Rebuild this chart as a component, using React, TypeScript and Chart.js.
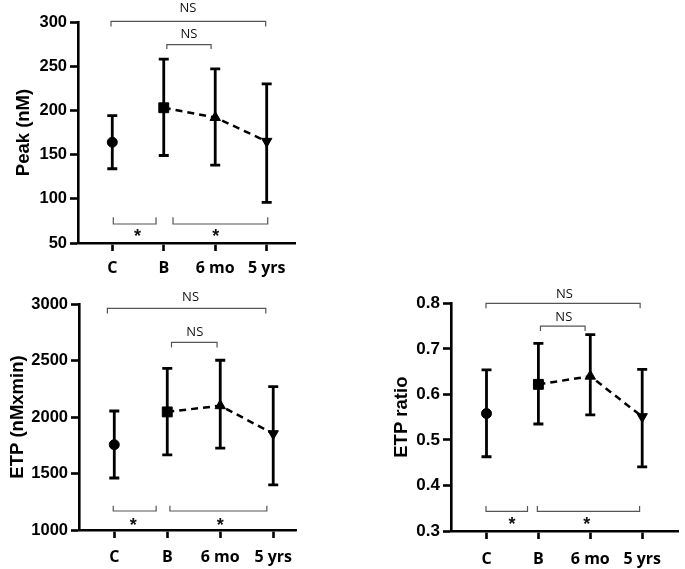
import React, { useEffect, useRef } from 'react';
import { Chart, registerables } from 'chart.js';

Chart.register(...registerables);

// ---------- data ----------
const categories = ['C', 'B', '6 mo', '5 yrs'];
const pointStyles = ['circle', 'rect', 'triangle', 'triangle'];
const pointRotations = [0, 0, 0, 180];
const pointRadii = [5, 7, 6, 6];

const peakMean = [164, 203, 192, 165];
const peakLow = [134, 149, 138, 96];
const peakHigh = [194, 258, 247, 230];
const peakTicks = [50, 100, 150, 200, 250, 300];

const etpMean = [1755, 2045, 2100, 1852];
const etpLow = [1460, 1665, 1725, 1400];
const etpHigh = [2053, 2430, 2502, 2268];
const etpTicks = [1000, 1500, 2000, 2500, 3000];

const ratioMean = [0.558, 0.622, 0.64, 0.551];
const ratioLow = [0.463, 0.535, 0.555, 0.441];
const ratioHigh = [0.654, 0.712, 0.731, 0.655];
const ratioTicks = [0.3, 0.4, 0.5, 0.6, 0.7, 0.8];

type Bracket = { from: number; to: number; y: number; tip: number; label: string; labelX: number; labelY: number };

const peakBrackets: Bracket[] = [
  { from: -0.025, to: 2.98, y: 300.6, tip: 294.9, label: 'NS', labelX: 1.47, labelY: 316.4 },
  { from: 1.06, to: 1.92, y: 274.5, tip: 269.5, label: 'NS', labelX: 1.49, labelY: 287.2 },
  { from: 0.02, to: 0.85, y: 71.5, tip: 79, label: '*', labelX: 0.49, labelY: 62.4 },
  { from: 1.18, to: 3.02, y: 71.5, tip: 79, label: '*', labelX: 2.01, labelY: 62.4 },
];

const etpBrackets: Bracket[] = [
  { from: -0.13, to: 2.86, y: 2962, tip: 2917, label: 'NS', labelX: 1.44, labelY: 3065 },
  { from: 1.08, to: 1.94, y: 2661, tip: 2614, label: 'NS', labelX: 1.52, labelY: 2755 },
  { from: -0.02, to: 0.79, y: 1168, tip: 1215, label: '*', labelX: 0.36, labelY: 1083 },
  { from: 1.05, to: 2.88, y: 1168, tip: 1215, label: '*', labelX: 2.0, labelY: 1083 },
];

const ratioBrackets: Bracket[] = [
  { from: -0.01, to: 2.96, y: 0.8, tip: 0.789, label: 'NS', labelX: 1.5, labelY: 0.823 },
  { from: 1.04, to: 1.9, y: 0.75, tip: 0.739, label: 'NS', labelX: 1.49, labelY: 0.771 },
  { from: -0.01, to: 0.79, y: 0.343, tip: 0.355, label: '*', labelX: 0.49, labelY: 0.324 },
  { from: 0.98, to: 2.95, y: 0.343, tip: 0.355, label: '*', labelX: 1.93, labelY: 0.324 },
];

// ---------- layout ----------
type PanelCfg = {
  title: string;
  mean: number[];
  low: number[];
  high: number[];
  ticks: number[];
  decimals: number;
  brackets: Bracket[];
  left: number; top: number; width: number; height: number;
  areaLeft: number; areaRight: number; areaTop: number; areaBottom: number;
  xMin: number; xMax: number;
  titlePad: number; labelPad: number; yFont: number;
};

const panels: PanelCfg[] = [
  {
    title: 'Peak (nM)', mean: peakMean, low: peakLow, high: peakHigh, ticks: peakTicks, decimals: 0, brackets: peakBrackets,
    left: 0, top: 0, width: 320, height: 285,
    areaLeft: 78, areaRight: 295, areaTop: 22, areaBottom: 243,
    xMin: -0.666, xMax: 3.55, titlePad: 12.9, labelPad: 8, yFont: 16.5,
  },
  {
    title: 'ETP (nMxmin)', mean: etpMean, low: etpLow, high: etpHigh, ticks: etpTicks, decimals: 0, brackets: etpBrackets,
    left: 0, top: 280, width: 320, height: 289,
    areaLeft: 79, areaRight: 296, areaTop: 24, areaBottom: 250,
    xMin: -0.666, xMax: 3.43, titlePad: 6.9, labelPad: 10, yFont: 16.5,
  },
  {
    title: 'ETP ratio', mean: ratioMean, low: ratioLow, high: ratioHigh, ticks: ratioTicks, decimals: 1, brackets: ratioBrackets,
    left: 380, top: 270, width: 305, height: 299,
    areaLeft: 71, areaRight: 303.3, areaTop: 33.3, areaBottom: 261,
    xMin: -0.684, xMax: 3.69, titlePad: 10.9, labelPad: 11, yFont: 17,
  },
];

function Panel({ cfg }: { cfg: PanelCfg }) {
  const ref = useRef<HTMLCanvasElement>(null);
  useEffect(() => {
    const canvas = ref.current;
    if (!canvas) return;

    const errorBars = {
      id: 'errorBars',
      beforeDatasetsDraw(chart: any) {
        const { ctx, scales } = chart;
        const xs = scales.x;
        const ys = scales.y;
        ctx.save();
        ctx.strokeStyle = '#000';
        ctx.lineWidth = 2.8;
        ctx.lineCap = 'butt';
        cfg.mean.forEach((_, i) => {
          const x = xs.getPixelForValue(i);
          const yl = ys.getPixelForValue(cfg.low[i]);
          const yh = ys.getPixelForValue(cfg.high[i]);
          ctx.beginPath();
          ctx.moveTo(x, yl);
          ctx.lineTo(x, yh);
          ctx.moveTo(x - 5, yl);
          ctx.lineTo(x + 5, yl);
          ctx.moveTo(x - 5, yh);
          ctx.lineTo(x + 5, yh);
          ctx.stroke();
        });
        ctx.restore();
      },
    };

    const brackets = {
      id: 'brackets',
      afterDatasetsDraw(chart: any) {
        const { ctx, scales } = chart;
        const xs = scales.x;
        const ys = scales.y;
        ctx.save();
        cfg.brackets.forEach((b) => {
          const x1 = xs.getPixelForValue(b.from);
          const x2 = xs.getPixelForValue(b.to);
          const y = ys.getPixelForValue(b.y);
          const t = ys.getPixelForValue(b.tip);
          ctx.strokeStyle = '#555';
          ctx.lineWidth = 1.2;
          ctx.beginPath();
          ctx.moveTo(x1, t);
          ctx.lineTo(x1, y);
          ctx.lineTo(x2, y);
          ctx.lineTo(x2, t);
          ctx.stroke();
          const lx = xs.getPixelForValue(b.labelX);
          const ly = ys.getPixelForValue(b.labelY);
          ctx.textAlign = 'center';
          ctx.textBaseline = 'alphabetic';
          ctx.fillStyle = '#111';
          if (b.label === '*') {
            ctx.font = 'bold 18px "Liberation Sans", Arial, sans-serif';
            ctx.fillText(b.label, lx, ly + 10);
          } else {
            ctx.font = '13px "Open Sans", sans-serif';
            ctx.fillText(b.label, lx, ly + 4.7);
          }
        });
        ctx.restore();
      },
    };

    const axisGrid = {
      drawOnChartArea: false,
      drawTicks: true,
      tickLength: 8,
      tickWidth: 2.6,
      tickColor: '#000',
    };

    const chart = new Chart(canvas, {
      type: 'line',
      data: {
        datasets: [
          {
            data: cfg.mean.map((m, i) => ({ x: i, y: m })),
            showLine: false,
            pointStyle: pointStyles as any,
            pointRotation: pointRotations as any,
            pointRadius: pointRadii as any,
            pointBackgroundColor: '#000',
            pointBorderColor: '#000',
            pointBorderWidth: 1,
          },
          {
            data: cfg.mean.slice(1).map((m, i) => ({ x: i + 1, y: m })),
            borderColor: '#000',
            borderWidth: 2.5,
            borderDash: [7, 5],
            pointRadius: 0,
            fill: false,
            tension: 0,
          },
        ],
      },
      options: {
        responsive: false,
        animation: false,
        devicePixelRatio: 1,
        events: [],
        layout: {
          padding: { top: cfg.areaTop, right: cfg.width - cfg.areaRight, left: 0, bottom: 0 },
        },
        plugins: { legend: { display: false }, tooltip: { enabled: false } },
        scales: {
          x: {
            type: 'linear',
            min: cfg.xMin,
            max: cfg.xMax,
            afterBuildTicks: (s: any) => {
              s.ticks = categories.map((_, i) => ({ value: i }));
            },
            afterFit: (s: any) => {
              s.height = cfg.height - cfg.areaBottom;
            },
            ticks: {
              autoSkip: false,
              maxRotation: 0,
              padding: cfg.labelPad,
              color: '#000',
              font: { family: '"Open Sans", Lato, sans-serif', size: 16, weight: 'bold' },
              callback: (v: any) => categories[Math.round(Number(v))] ?? '',
            },
            grid: axisGrid,
            border: { color: '#000', width: 2.6 },
          },
          y: {
            type: 'linear',
            min: cfg.ticks[0],
            max: cfg.ticks[cfg.ticks.length - 1],
            afterBuildTicks: (s: any) => {
              s.ticks = cfg.ticks.map((v) => ({ value: v }));
            },
            afterFit: (s: any) => {
              s.width = cfg.areaLeft;
            },
            ticks: {
              padding: 3,
              color: '#000',
              font: { family: '"Liberation Sans", Arial, sans-serif', size: cfg.yFont, weight: 'bold' },
              callback: (v: any) => Number(v).toFixed(cfg.decimals),
            },
            grid: axisGrid,
            border: { color: '#000', width: 2.6 },
            title: {
              display: true,
              text: cfg.title,
              color: '#000',
              font: { family: '"Liberation Sans", Arial, sans-serif', size: 18.5, weight: 'bold' },
              padding: { top: cfg.titlePad, bottom: 0 },
            },
          },
        },
      } as any,
      plugins: [errorBars, brackets],
    });
    return () => chart.destroy();
  }, [cfg]);

  return (
    <canvas
      ref={ref}
      width={cfg.width}
      height={cfg.height}
      style={{ position: 'absolute', left: cfg.left, top: cfg.top, width: cfg.width, height: cfg.height }}
    />
  );
}

export default function App() {
  return (
    <div style={{ position: 'absolute', left: 0, top: 0, width: 685, height: 569, background: '#fff' }}>
      {panels.map((p) => (
        <Panel key={p.title} cfg={p} />
      ))}
    </div>
  );
}
